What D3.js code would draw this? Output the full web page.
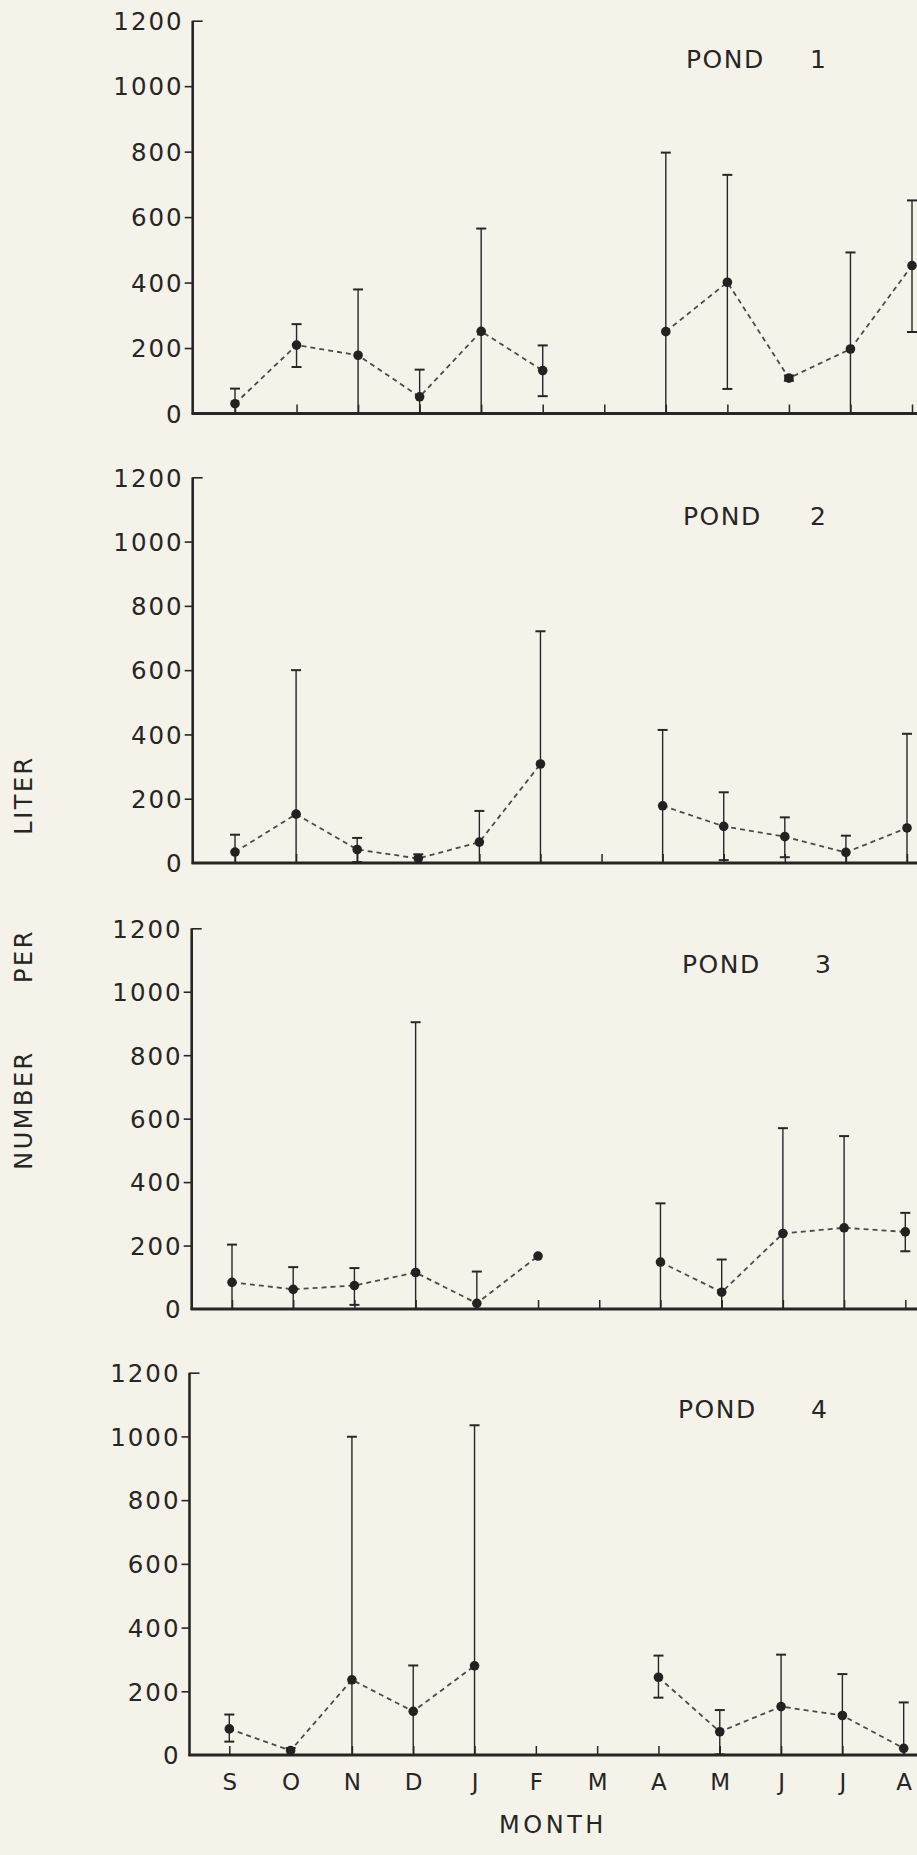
<!DOCTYPE html>
<html>
<head>
<meta charset="utf-8">
<script src="https://cdn.jsdelivr.net/npm/d3@7"></script>
<style>
  html, body { margin: 0; padding: 0; background: #f5f3e9; }
  svg { display: block; }
  text { font-family: "DejaVu Sans", sans-serif; fill: #262626; }
</style>
</head>
<body>
<script>
// ---------------- data ----------------
const months = ["S","O","N","D","J","F","M","A","M","J","J","A"];
const yTicks = [0, 200, 400, 600, 800, 1000, 1200];
const pondNumbers = ["1", "2", "3", "4"];

const pond1Mean = [30, 209, 178, 51, 251, 131, null, 250, 401, 108, 197, 452];
const pond1Hi   = [76, 273, 379, 134, 565, 208, null, 797, 729, 116, 492, 651];
const pond1Lo   = [0, 142, 0, 0, 0, 53, null, 0, 75, 100, 0, 249];

const pond2Mean = [34, 152, 42, 14, 65, 308, null, 178, 114, 82, 33, 109];
const pond2Hi   = [88, 600, 78, 27, 162, 721, null, 414, 220, 142, 85, 402];
const pond2Lo   = [0, 0, 3, 0, 0, 0, null, 0, 9, 18, 0, 0];

const pond3Mean = [84, 62, 74, 115, 18, 167, null, 148, 53, 238, 256, 243];
const pond3Hi   = [203, 132, 129, 904, 118, null, null, 333, 156, 570, 545, 303];
const pond3Lo   = [0, 0, 13, 0, 0, null, null, 0, 0, 0, 0, 182];

const pond4Mean = [82, 14, 236, 137, 280, null, null, 244, 73, 152, 124, 21];
const pond4Hi   = [127, 22, 999, 281, 1035, null, null, 312, 141, 315, 254, 165];
const pond4Lo   = [42, 0, 0, 0, 0, null, null, 180, 2, 0, 0, 0];

const pondMeans = [pond1Mean, pond2Mean, pond3Mean, pond4Mean];
const pondHis   = [pond1Hi, pond2Hi, pond3Hi, pond4Hi];
const pondLos   = [pond1Lo, pond2Lo, pond3Lo, pond4Lo];

// ---------------- layout ----------------
const W = 917, H = 1855;
const panels = [
  { top: 20.7,   base: 413.5, axisX: 192.7, xS: 235,   xA: 912,   titleY: 68,   titleX: 686, numX: 818 },
  { top: 477.3,  base: 863,   axisX: 192.7, xS: 235,   xA: 907,   titleY: 525,  titleX: 683, numX: 818 },
  { top: 928.3,  base: 1309,  axisX: 191.7, xS: 232,   xA: 905.3, titleY: 973,  titleX: 682, numX: 823 },
  { top: 1372.7, base: 1755,  axisX: 189.5, xS: 229.3, xA: 903.7, titleY: 1418, titleX: 678, numX: 819 }
];
const ink = "#262626";

const svg = d3.select("body").append("svg")
  .attr("width", W).attr("height", H);

svg.append("rect").attr("width", W).attr("height", H).attr("fill", "#f5f3e9");

panels.forEach((p, pi) => {
  const g = svg.append("g");
  const idx = d3.range(months.length);
  const x = d3.scalePoint().domain(idx).range([p.xS, p.xA]);
  const y = d3.scaleLinear().domain([0, 1200]).range([p.base, p.top]);

  // y axis
  const yAxis = d3.axisLeft(y).tickValues(yTicks).tickSize(8).tickPadding(4)
    .tickFormat(d => String(d));
  const gy = g.append("g").attr("transform", `translate(${p.axisX},0)`).call(yAxis);
  gy.select(".domain").remove();
  gy.selectAll(".tick line").attr("stroke", ink).attr("stroke-width", 1.6)
    .attr("x2", d => d === 1200 ? 10 : -8);
  gy.selectAll(".tick text")
    .attr("x", -9)
    .attr("dy", "0.36em")
    .style("font-size", "24.5px")
    .style("letter-spacing", "2px")
    .attr("fill", ink);
  gy.selectAll(".tick").filter(d => d === 0).select("line").remove();

  // x axis ticks (inward)
  const xAxis = d3.axisBottom(x).tickSize(-9).tickPadding(13)
    .tickFormat(i => pi === 3 ? months[i] : "");
  const gx = g.append("g").attr("transform", `translate(0,${p.base})`).call(xAxis);
  gx.select(".domain").remove();
  gx.selectAll(".tick line").attr("stroke", ink).attr("stroke-width", 1.5);
  gx.selectAll(".tick text")
    .style("font-size", "23px")
    .attr("fill", ink)
    .attr("dy", "0.95em");

  // axis lines
  g.append("line")
    .attr("x1", p.axisX).attr("x2", p.axisX)
    .attr("y1", y(1200)).attr("y2", y(0) + 1)
    .attr("stroke", ink).attr("stroke-width", 2.6);
  g.append("line")
    .attr("x1", p.axisX - 1).attr("x2", W)
    .attr("y1", y(0)).attr("y2", y(0))
    .attr("stroke", ink).attr("stroke-width", 3);

  const mean = pondMeans[pi], hi = pondHis[pi], lo = pondLos[pi];
  const pts = idx.map(i => ({ i, m: mean[i], hi: hi[i], lo: lo[i] }));

  // dashed line
  const line = d3.line()
    .defined(d => d.m !== null)
    .x(d => x(d.i)).y(d => y(d.m));
  g.append("path").datum(pts)
    .attr("d", line)
    .attr("fill", "none")
    .attr("stroke", "#4a4a4a")
    .attr("stroke-width", 1.8)
    .attr("stroke-dasharray", "5,4");

  // error bars
  const eb = pts.filter(d => d.hi !== null && d.m !== null);
  g.selectAll(".eb").data(eb).enter().append("line")
    .attr("x1", d => x(d.i)).attr("x2", d => x(d.i))
    .attr("y1", d => y(d.hi)).attr("y2", d => y(d.lo))
    .attr("stroke", ink).attr("stroke-width", 1.4);
  g.selectAll(".capH").data(eb).enter().append("line")
    .attr("x1", d => x(d.i) - 5).attr("x2", d => x(d.i) + 5)
    .attr("y1", d => y(d.hi)).attr("y2", d => y(d.hi))
    .attr("stroke", ink).attr("stroke-width", 2);
  g.selectAll(".capL").data(eb.filter(d => d.lo > 0)).enter().append("line")
    .attr("x1", d => x(d.i) - 5).attr("x2", d => x(d.i) + 5)
    .attr("y1", d => y(d.lo)).attr("y2", d => y(d.lo))
    .attr("stroke", ink).attr("stroke-width", 2);

  // points
  g.selectAll(".pt").data(pts.filter(d => d.m !== null)).enter().append("circle")
    .attr("cx", d => x(d.i)).attr("cy", d => y(d.m))
    .attr("r", 4.8).attr("fill", "#222");

  // title
  g.append("text").attr("x", p.titleX).attr("y", p.titleY)
    .style("font-size", "25px").style("letter-spacing", "1.5px")
    .text("POND");
  g.append("text").attr("x", p.numX).attr("y", p.titleY)
    .attr("text-anchor", "middle")
    .style("font-size", "25px")
    .text(pondNumbers[pi]);
});

// axis titles
const yTitle = [
  { t: "LITER", c: 795 },
  { t: "PER", c: 956 },
  { t: "NUMBER", c: 1110 }
];
yTitle.forEach(d => {
  svg.append("text")
    .attr("transform", `translate(32,${d.c}) rotate(-90)`)
    .attr("text-anchor", "middle")
    .style("font-size", "24px")
    .style("letter-spacing", "2.5px")
    .text(d.t);
});

svg.append("text")
  .attr("x", 553).attr("y", 1833)
  .attr("text-anchor", "middle")
  .style("font-size", "24px")
  .style("letter-spacing", "3.5px")
  .text("MONTH");
</script>
</body>
</html>
